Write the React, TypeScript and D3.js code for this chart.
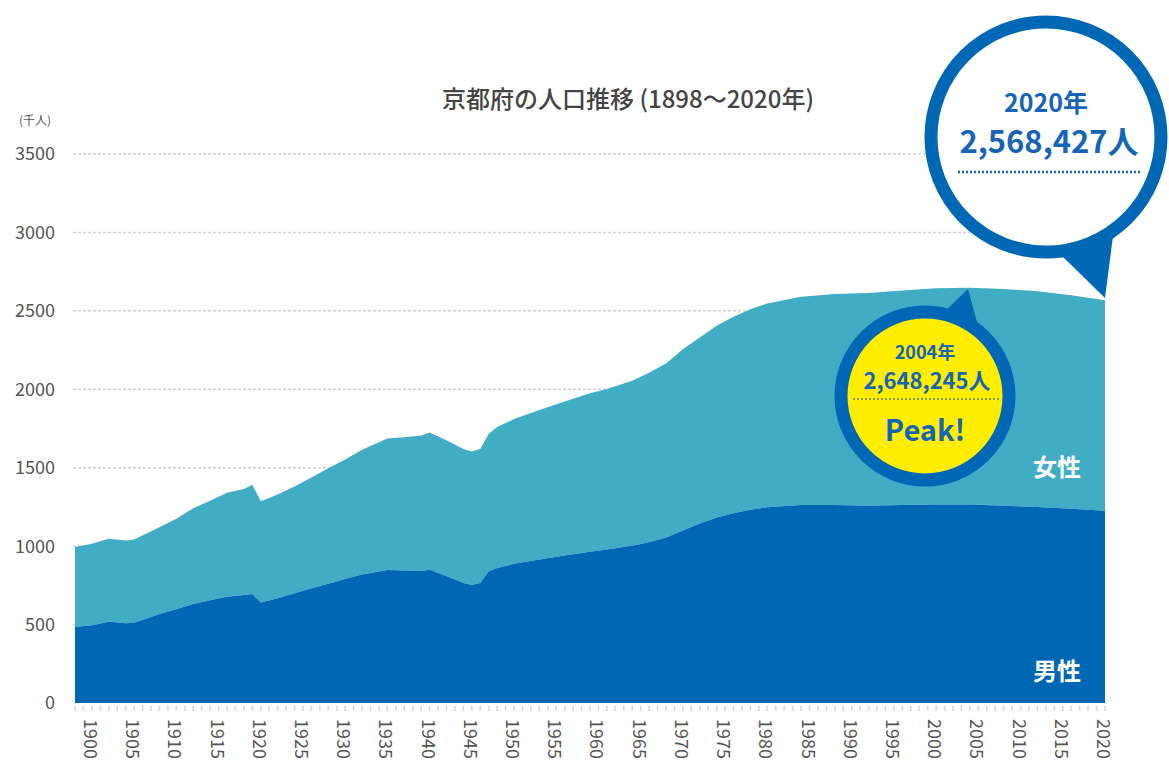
import React from "react";
import * as d3 from "d3";

const years = [1898, 1900, 1902, 1904, 1905, 1908, 1910, 1912, 1914, 1916, 1918, 1919, 1920, 1922, 1924, 1926, 1928, 1930, 1932, 1935, 1937, 1939, 1940, 1942, 1944, 1945, 1946, 1947, 1948, 1950, 1953, 1956, 1959, 1961, 1964, 1966, 1968, 1970, 1972, 1974, 1976, 1978, 1980, 1984, 1988, 1992, 1996, 2000, 2004, 2008, 2012, 2016, 2020];
const totalPop = [995, 1015, 1047, 1036, 1042, 1120, 1175, 1241, 1290, 1341, 1365, 1392, 1287, 1330, 1380, 1438, 1497, 1553, 1615, 1686, 1695, 1705, 1725, 1675, 1620, 1603, 1620, 1715, 1760, 1810, 1868, 1922, 1975, 2002, 2055, 2105, 2165, 2255, 2330, 2405, 2462, 2510, 2547, 2590, 2607, 2614, 2630, 2644, 2648, 2640, 2625, 2600, 2568];
const malePop = [485, 495, 518, 508, 512, 568, 598, 631, 655, 678, 688, 695, 640, 668, 700, 732, 760, 790, 820, 848, 845, 842, 850, 810, 765, 752, 765, 840, 860, 887, 915, 940, 965, 978, 1002, 1025, 1055, 1100, 1145, 1182, 1209, 1232, 1248, 1262, 1262, 1258, 1262, 1265, 1265, 1258, 1250, 1238, 1225];
const yTicks = [0, 500, 1000, 1500, 2000, 2500, 3000, 3500];
const xTicks = d3.range(1900, 2021, 5);

const title = "京都府の人口推移 (1898〜2020年)";
const unitLabel = "(千人)";
const femaleLabel = "女性";
const maleLabel = "男性";
const bigBubble = ["2020年", "2,568,427人"];
const smallBubble = ["2004年", "2,648,245人", "Peak!"];

const FEMALE = "#41adc5";
const MALE = "#0067b5";
const BLUE = "#1564b8";

export default function App() {
  const x = d3.scaleLinear().domain([1898, 2020]).range([75, 1105]);
  const y = d3.scaleLinear().domain([0, 3500]).range([703, 154]);
  const data = years.map((yr, i) => ({ yr, t: totalPop[i], m: malePop[i] }));
  const femaleArea = d3
    .area<any>()
    .x((d) => x(d.yr))
    .y0((d) => y(d.m))
    .y1((d) => y(d.t))
    .curve(d3.curveLinear);
  const maleArea = d3
    .area<any>()
    .x((d) => x(d.yr))
    .y0(y(0))
    .y1((d) => y(d.m))
    .curve(d3.curveLinear);
  const allYears = d3.range(1898, 2021);
  const font = "'Noto Sans CJK JP', 'Noto Sans', sans-serif";

  const bcx = 1046, bcy = 137, br = 115;
  const scx = 925, scy = 396, sr = 84;

  return (
    <svg
      width={1169}
      height={768}
      style={{ position: "absolute", left: 0, top: 0, background: "#fff" }}
      fontFamily={font}
    >
      <text x={628} y={108} textAnchor="middle" fontSize={24} fontWeight={500} fill="#444">
        {title}
      </text>
      <text x={35} y={125} textAnchor="middle" fontSize={12} fill="#555">
        {unitLabel}
      </text>
      {yTicks.map((t) => (
        <g key={t}>
          {t > 0 && (
            <line
              x1={73}
              x2={1105}
              y1={y(t)}
              y2={y(t)}
              stroke="#d0d0d0"
              strokeWidth={1.5}
              strokeDasharray="3,2"
            />
          )}
          <text
            x={55}
            y={y(t)}
            dy="0.36em"
            textAnchor="end"
            fontSize={18}
            fill="#555"
          >
            {t}
          </text>
        </g>
      ))}
      <path d={femaleArea(data) as string} fill={FEMALE} />
      <path d={maleArea(data) as string} fill={MALE} />
      {allYears.map((yr) => (
        <line
          key={yr}
          x1={x(yr)}
          x2={x(yr)}
          y1={706}
          y2={711}
          stroke="#d4d4d4"
          strokeWidth={1.5}
        />
      ))}
      {xTicks.map((t) => (
        <text
          key={t}
          transform={`translate(${x(t)},719) rotate(90)`}
          dominantBaseline="central"
          fontSize={18}
          fill="#555"
        >
          {t}
        </text>
      ))}
      <text x={1057} y={476} textAnchor="middle" fontSize={24} fontWeight={700} fill="#fff">
        {femaleLabel}
      </text>
      <text x={1057} y={680} textAnchor="middle" fontSize={24} fontWeight={700} fill="#fff">
        {maleLabel}
      </text>

      {/* big bubble */}
      <path d={`M1058,252 L1113,236 L1105,298 Z`} fill={MALE} />
      <circle cx={bcx} cy={bcy} r={br} fill="#fff" stroke={MALE} strokeWidth={13} />
      <text x={bcx} y={112} textAnchor="middle" fontSize={25} fontWeight={700} fill={BLUE}>
        {bigBubble[0]}
      </text>
      <text x={1049} y={153} textAnchor="middle" fontSize={31} fontWeight={700} fill={BLUE}>
        {bigBubble[1]}
      </text>
      <line x1={958} x2={1140} y1={172} y2={172} stroke={BLUE} strokeWidth={2.5} strokeDasharray="2,2" />

      {/* small bubble */}
      <path d={`M938,318 L977,322 L968,289 Z`} fill={MALE} />
      <circle cx={scx} cy={scy} r={sr} fill="#ffee00" stroke={MALE} strokeWidth={13} />
      <text x={scx} y={359} textAnchor="middle" fontSize={18} fontWeight={700} fill={BLUE}>
        {smallBubble[0]}
      </text>
      <text x={scx + 2} y={389} textAnchor="middle" fontSize={22} fontWeight={700} fill={BLUE}>
        {smallBubble[1]}
      </text>
      <line x1={853} x2={999} y1={399} y2={399} stroke="#8a9a5a" strokeWidth={2} strokeDasharray="2,2" />
      <text x={scx} y={441} textAnchor="middle" fontSize={29} fontWeight={700} fill={BLUE}>
        {smallBubble[2]}
      </text>
    </svg>
  );
}
